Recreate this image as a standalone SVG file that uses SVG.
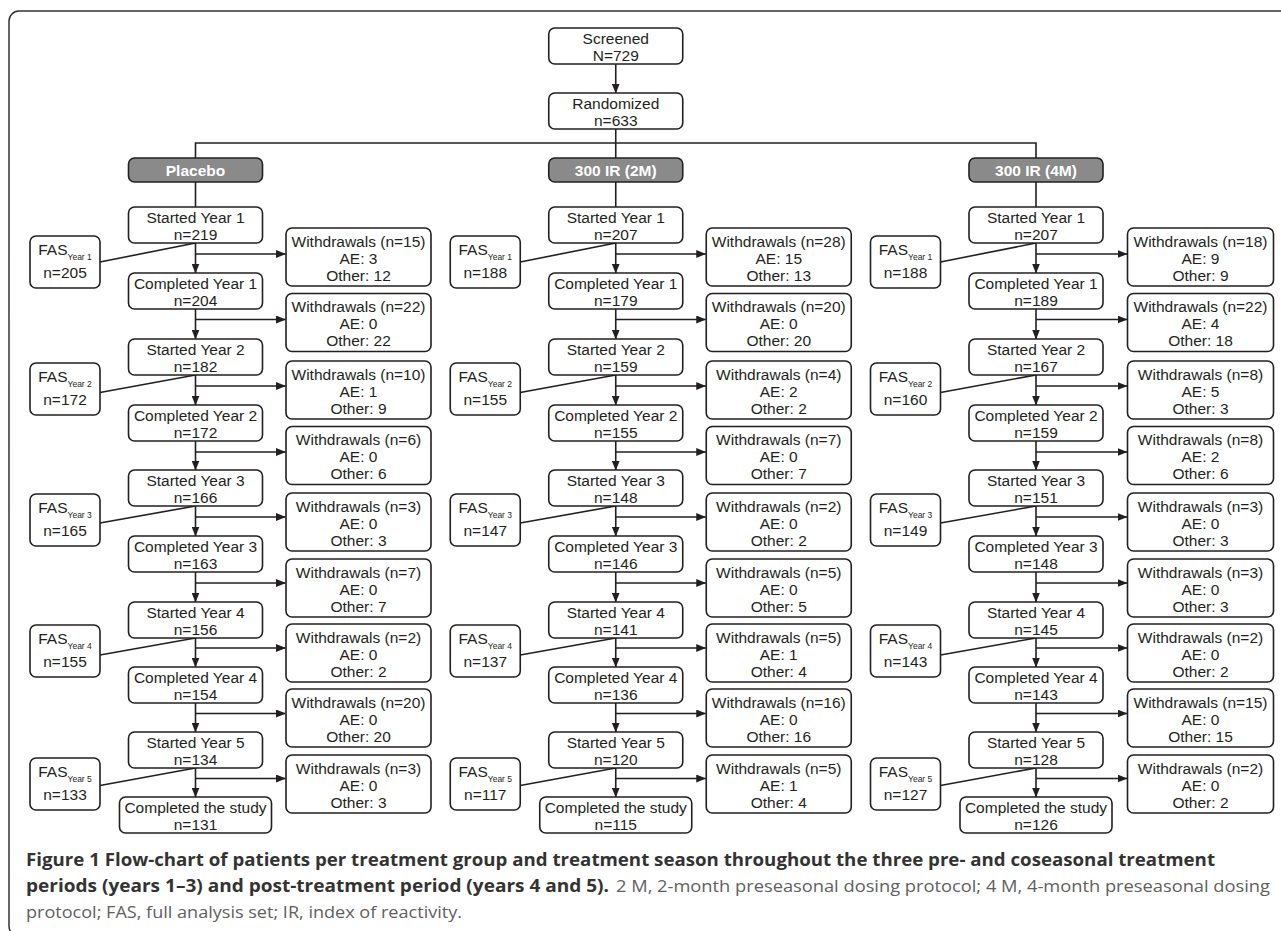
<svg xmlns="http://www.w3.org/2000/svg" width="1281" height="931" viewBox="0 0 1281 931">
<defs>
<style>
.box{fill:#fff;stroke:#231f20;stroke-width:1.6}
.hdr{fill:#8a8a8a;stroke:#231f20;stroke-width:1.6}
.t{font-family:"Liberation Sans",Arial,sans-serif;font-size:15.5px;fill:#231f20;text-anchor:middle}
.ht{font-family:"Liberation Sans",Arial,sans-serif;font-size:15.5px;font-weight:bold;fill:#fff;text-anchor:middle}
.sub{font-size:8.5px}
.ln{stroke:#231f20;stroke-width:1.6;fill:none}
.ar{stroke:#231f20;stroke-width:1.6;fill:none;marker-end:url(#ah)}
.cb{font-family:"Open Sans","Liberation Sans",sans-serif;font-size:17px;font-weight:bold;fill:#333}
.cn{font-family:"Open Sans","Liberation Sans",sans-serif;font-size:17px;fill:#606060}
</style>
<marker id="ah" markerUnits="userSpaceOnUse" markerWidth="10" markerHeight="8" refX="9.5" refY="4" orient="auto"><path d="M0,0 L10,4 L0,8 z" fill="#231f20"/></marker>
</defs>
<rect x="0" y="0" width="1281" height="931" fill="#fff"/>
<rect x="9" y="11" width="1290" height="925" rx="10" fill="none" stroke="#333" stroke-width="1.5"/>

<g id="connectors">
<path class="ar" d="M615.75,64 V93"/>
<path class="ln" d="M615.75,129 V158 M195.5,158 V143 H1036 V158"/>
<g id="conn-placebo">
<path class="ln" d="M195.5,182 V207"/>
<path class="ar" d="M195.5,243 V273"/><path class="ar" d="M195.5,309 V339"/><path class="ar" d="M195.5,375 V405"/><path class="ar" d="M195.5,441 V470"/><path class="ar" d="M195.5,506 V536"/><path class="ar" d="M195.5,572 V602"/><path class="ar" d="M195.5,638 V667"/><path class="ar" d="M195.5,703 V732"/><path class="ar" d="M195.5,768 V797"/>
<path class="ar" d="M195.5,254 H285.5"/><path class="ar" d="M195.5,319.5 H285.5"/><path class="ar" d="M195.5,386 H285.5"/><path class="ar" d="M195.5,452 H285.5"/><path class="ar" d="M195.5,517 H285.5"/><path class="ar" d="M195.5,583 H285.5"/><path class="ar" d="M195.5,648 H285.5"/><path class="ar" d="M195.5,713.5 H285.5"/><path class="ar" d="M195.5,778.5 H285.5"/>
<path class="ln" d="M100,262 L195.5,243 M100,392.5 L195.5,375 M100,523 L195.5,506 M100,655 L195.5,638 M100,785.5 L195.5,768"/>
</g>
<g id="conn-2m" transform="translate(420.25,0)">
<path class="ln" d="M195.5,182 V207"/>
<path class="ar" d="M195.5,243 V273"/><path class="ar" d="M195.5,309 V339"/><path class="ar" d="M195.5,375 V405"/><path class="ar" d="M195.5,441 V470"/><path class="ar" d="M195.5,506 V536"/><path class="ar" d="M195.5,572 V602"/><path class="ar" d="M195.5,638 V667"/><path class="ar" d="M195.5,703 V732"/><path class="ar" d="M195.5,768 V797"/>
<path class="ar" d="M195.5,254 H285.5"/><path class="ar" d="M195.5,319.5 H285.5"/><path class="ar" d="M195.5,386 H285.5"/><path class="ar" d="M195.5,452 H285.5"/><path class="ar" d="M195.5,517 H285.5"/><path class="ar" d="M195.5,583 H285.5"/><path class="ar" d="M195.5,648 H285.5"/><path class="ar" d="M195.5,713.5 H285.5"/><path class="ar" d="M195.5,778.5 H285.5"/>
<path class="ln" d="M100,262 L195.5,243 M100,392.5 L195.5,375 M100,523 L195.5,506 M100,655 L195.5,638 M100,785.5 L195.5,768"/>
</g>
<g id="conn-4m" transform="translate(840.5,0)">
<path class="ln" d="M195.5,182 V207"/>
<path class="ar" d="M195.5,243 V273"/><path class="ar" d="M195.5,309 V339"/><path class="ar" d="M195.5,375 V405"/><path class="ar" d="M195.5,441 V470"/><path class="ar" d="M195.5,506 V536"/><path class="ar" d="M195.5,572 V602"/><path class="ar" d="M195.5,638 V667"/><path class="ar" d="M195.5,703 V732"/><path class="ar" d="M195.5,768 V797"/>
<path class="ar" d="M195.5,254 H286.5"/><path class="ar" d="M195.5,319.5 H286.5"/><path class="ar" d="M195.5,386 H286.5"/><path class="ar" d="M195.5,452 H286.5"/><path class="ar" d="M195.5,517 H286.5"/><path class="ar" d="M195.5,583 H286.5"/><path class="ar" d="M195.5,648 H286.5"/><path class="ar" d="M195.5,713.5 H286.5"/><path class="ar" d="M195.5,778.5 H286.5"/>
<path class="ln" d="M100,262 L195.5,243 M100,392.5 L195.5,375 M100,523 L195.5,506 M100,655 L195.5,638 M100,785.5 L195.5,768"/>
</g>
</g>

<g id="screened"><rect class="box" x="548.75" y="28" width="134" height="36" rx="6"/><text class="t" x="615.75" y="44">Screened</text><text class="t" x="615.75" y="60.5">N=729</text></g>
<g id="randomized"><rect class="box" x="548.75" y="93" width="134" height="36" rx="6"/><text class="t" x="615.75" y="109">Randomized</text><text class="t" x="615.75" y="125.5">n=633</text></g>

<!-- Placebo column -->
<g id="col-placebo">
<g id="p-hdr"><rect class="hdr" x="128.5" y="158" width="134" height="24" rx="6"/><text class="ht" x="195.5" y="175.5">Placebo</text></g>
<g id="p-s1"><rect class="box" x="128.5" y="207" width="134" height="36" rx="6"/><text class="t" x="195.5" y="223">Started Year 1</text><text class="t" x="195.5" y="239.5">n=219</text></g>
<g id="p-c1"><rect class="box" x="128.5" y="273" width="134" height="36" rx="6"/><text class="t" x="195.5" y="289">Completed Year 1</text><text class="t" x="195.5" y="305.5">n=204</text></g>
<g id="p-s2"><rect class="box" x="128.5" y="339" width="134" height="36" rx="6"/><text class="t" x="195.5" y="355">Started Year 2</text><text class="t" x="195.5" y="371.5">n=182</text></g>
<g id="p-c2"><rect class="box" x="128.5" y="405" width="134" height="36" rx="6"/><text class="t" x="195.5" y="421">Completed Year 2</text><text class="t" x="195.5" y="437.5">n=172</text></g>
<g id="p-s3"><rect class="box" x="128.5" y="470" width="134" height="36" rx="6"/><text class="t" x="195.5" y="486">Started Year 3</text><text class="t" x="195.5" y="502.5">n=166</text></g>
<g id="p-c3"><rect class="box" x="128.5" y="536" width="134" height="36" rx="6"/><text class="t" x="195.5" y="552">Completed Year 3</text><text class="t" x="195.5" y="568.5">n=163</text></g>
<g id="p-s4"><rect class="box" x="128.5" y="602" width="134" height="36" rx="6"/><text class="t" x="195.5" y="618">Started Year 4</text><text class="t" x="195.5" y="634.5">n=156</text></g>
<g id="p-c4"><rect class="box" x="128.5" y="667" width="134" height="36" rx="6"/><text class="t" x="195.5" y="683">Completed Year 4</text><text class="t" x="195.5" y="699.5">n=154</text></g>
<g id="p-s5"><rect class="box" x="128.5" y="732" width="134" height="36" rx="6"/><text class="t" x="195.5" y="748">Started Year 5</text><text class="t" x="195.5" y="764.5">n=134</text></g>
<g id="p-cs"><rect class="box" x="119.5" y="797" width="152" height="36" rx="6"/><text class="t" x="195.5" y="813">Completed the study</text><text class="t" x="195.5" y="829.5">n=131</text></g>
<g id="p-f1"><rect class="box" x="30" y="236" width="70" height="52" rx="6"/><text class="t" x="65" y="255">FAS<tspan class="sub" dy="4.5">Year 1</tspan></text><text class="t" x="65" y="278">n=205</text></g>
<g id="p-f2"><rect class="box" x="30" y="363" width="70" height="52" rx="6"/><text class="t" x="65" y="382">FAS<tspan class="sub" dy="4.5">Year 2</tspan></text><text class="t" x="65" y="405">n=172</text></g>
<g id="p-f3"><rect class="box" x="30" y="494" width="70" height="52" rx="6"/><text class="t" x="65" y="513">FAS<tspan class="sub" dy="4.5">Year 3</tspan></text><text class="t" x="65" y="536">n=165</text></g>
<g id="p-f4"><rect class="box" x="30" y="625" width="70" height="52" rx="6"/><text class="t" x="65" y="644">FAS<tspan class="sub" dy="4.5">Year 4</tspan></text><text class="t" x="65" y="667">n=155</text></g>
<g id="p-f5"><rect class="box" x="30" y="758" width="70" height="52" rx="6"/><text class="t" x="65" y="777">FAS<tspan class="sub" dy="4.5">Year 5</tspan></text><text class="t" x="65" y="800">n=133</text></g>
<g id="p-w1"><rect class="box" x="286" y="228" width="145" height="58" rx="6"/><text class="t" x="358.5" y="246.5">Withdrawals (n=15)</text><text class="t" x="358.5" y="263.5">AE: 3</text><text class="t" x="358.5" y="280.5">Other: 12</text></g>
<g id="p-w2"><rect class="box" x="286" y="293.5" width="145" height="58" rx="6"/><text class="t" x="358.5" y="312">Withdrawals (n=22)</text><text class="t" x="358.5" y="329">AE: 0</text><text class="t" x="358.5" y="346">Other: 22</text></g>
<g id="p-w3"><rect class="box" x="286" y="361" width="145" height="58" rx="6"/><text class="t" x="358.5" y="379.5">Withdrawals (n=10)</text><text class="t" x="358.5" y="396.5">AE: 1</text><text class="t" x="358.5" y="413.5">Other: 9</text></g>
<g id="p-w4"><rect class="box" x="286" y="426.5" width="145" height="58" rx="6"/><text class="t" x="358.5" y="445">Withdrawals (n=6)</text><text class="t" x="358.5" y="462">AE: 0</text><text class="t" x="358.5" y="479">Other: 6</text></g>
<g id="p-w5"><rect class="box" x="286" y="493" width="145" height="58" rx="6"/><text class="t" x="358.5" y="511.5">Withdrawals (n=3)</text><text class="t" x="358.5" y="528.5">AE: 0</text><text class="t" x="358.5" y="545.5">Other: 3</text></g>
<g id="p-w6"><rect class="box" x="286" y="559" width="145" height="58" rx="6"/><text class="t" x="358.5" y="577.5">Withdrawals (n=7)</text><text class="t" x="358.5" y="594.5">AE: 0</text><text class="t" x="358.5" y="611.5">Other: 7</text></g>
<g id="p-w7"><rect class="box" x="286" y="624" width="145" height="58" rx="6"/><text class="t" x="358.5" y="642.5">Withdrawals (n=2)</text><text class="t" x="358.5" y="659.5">AE: 0</text><text class="t" x="358.5" y="676.5">Other: 2</text></g>
<g id="p-w8"><rect class="box" x="286" y="689" width="145" height="58" rx="6"/><text class="t" x="358.5" y="707.5">Withdrawals (n=20)</text><text class="t" x="358.5" y="724.5">AE: 0</text><text class="t" x="358.5" y="741.5">Other: 20</text></g>
<g id="p-w9"><rect class="box" x="286" y="755" width="145" height="58" rx="6"/><text class="t" x="358.5" y="773.5">Withdrawals (n=3)</text><text class="t" x="358.5" y="790.5">AE: 0</text><text class="t" x="358.5" y="807.5">Other: 3</text></g>
</g>

<!-- 300 IR (2M) column -->
<g id="col-2m" transform="translate(420.25,0)">
<g id="a-hdr"><rect class="hdr" x="128.5" y="158" width="134" height="24" rx="6"/><text class="ht" x="195.5" y="175.5">300 IR (2M)</text></g>
<g id="a-s1"><rect class="box" x="128.5" y="207" width="134" height="36" rx="6"/><text class="t" x="195.5" y="223">Started Year 1</text><text class="t" x="195.5" y="239.5">n=207</text></g>
<g id="a-c1"><rect class="box" x="128.5" y="273" width="134" height="36" rx="6"/><text class="t" x="195.5" y="289">Completed Year 1</text><text class="t" x="195.5" y="305.5">n=179</text></g>
<g id="a-s2"><rect class="box" x="128.5" y="339" width="134" height="36" rx="6"/><text class="t" x="195.5" y="355">Started Year 2</text><text class="t" x="195.5" y="371.5">n=159</text></g>
<g id="a-c2"><rect class="box" x="128.5" y="405" width="134" height="36" rx="6"/><text class="t" x="195.5" y="421">Completed Year 2</text><text class="t" x="195.5" y="437.5">n=155</text></g>
<g id="a-s3"><rect class="box" x="128.5" y="470" width="134" height="36" rx="6"/><text class="t" x="195.5" y="486">Started Year 3</text><text class="t" x="195.5" y="502.5">n=148</text></g>
<g id="a-c3"><rect class="box" x="128.5" y="536" width="134" height="36" rx="6"/><text class="t" x="195.5" y="552">Completed Year 3</text><text class="t" x="195.5" y="568.5">n=146</text></g>
<g id="a-s4"><rect class="box" x="128.5" y="602" width="134" height="36" rx="6"/><text class="t" x="195.5" y="618">Started Year 4</text><text class="t" x="195.5" y="634.5">n=141</text></g>
<g id="a-c4"><rect class="box" x="128.5" y="667" width="134" height="36" rx="6"/><text class="t" x="195.5" y="683">Completed Year 4</text><text class="t" x="195.5" y="699.5">n=136</text></g>
<g id="a-s5"><rect class="box" x="128.5" y="732" width="134" height="36" rx="6"/><text class="t" x="195.5" y="748">Started Year 5</text><text class="t" x="195.5" y="764.5">n=120</text></g>
<g id="a-cs"><rect class="box" x="119.5" y="797" width="152" height="36" rx="6"/><text class="t" x="195.5" y="813">Completed the study</text><text class="t" x="195.5" y="829.5">n=115</text></g>
<g id="a-f1"><rect class="box" x="30" y="236" width="70" height="52" rx="6"/><text class="t" x="65" y="255">FAS<tspan class="sub" dy="4.5">Year 1</tspan></text><text class="t" x="65" y="278">n=188</text></g>
<g id="a-f2"><rect class="box" x="30" y="363" width="70" height="52" rx="6"/><text class="t" x="65" y="382">FAS<tspan class="sub" dy="4.5">Year 2</tspan></text><text class="t" x="65" y="405">n=155</text></g>
<g id="a-f3"><rect class="box" x="30" y="494" width="70" height="52" rx="6"/><text class="t" x="65" y="513">FAS<tspan class="sub" dy="4.5">Year 3</tspan></text><text class="t" x="65" y="536">n=147</text></g>
<g id="a-f4"><rect class="box" x="30" y="625" width="70" height="52" rx="6"/><text class="t" x="65" y="644">FAS<tspan class="sub" dy="4.5">Year 4</tspan></text><text class="t" x="65" y="667">n=137</text></g>
<g id="a-f5"><rect class="box" x="30" y="758" width="70" height="52" rx="6"/><text class="t" x="65" y="777">FAS<tspan class="sub" dy="4.5">Year 5</tspan></text><text class="t" x="65" y="800">n=117</text></g>
<g id="a-w1"><rect class="box" x="286" y="228" width="145" height="58" rx="6"/><text class="t" x="358.5" y="246.5">Withdrawals (n=28)</text><text class="t" x="358.5" y="263.5">AE: 15</text><text class="t" x="358.5" y="280.5">Other: 13</text></g>
<g id="a-w2"><rect class="box" x="286" y="293.5" width="145" height="58" rx="6"/><text class="t" x="358.5" y="312">Withdrawals (n=20)</text><text class="t" x="358.5" y="329">AE: 0</text><text class="t" x="358.5" y="346">Other: 20</text></g>
<g id="a-w3"><rect class="box" x="286" y="361" width="145" height="58" rx="6"/><text class="t" x="358.5" y="379.5">Withdrawals (n=4)</text><text class="t" x="358.5" y="396.5">AE: 2</text><text class="t" x="358.5" y="413.5">Other: 2</text></g>
<g id="a-w4"><rect class="box" x="286" y="426.5" width="145" height="58" rx="6"/><text class="t" x="358.5" y="445">Withdrawals (n=7)</text><text class="t" x="358.5" y="462">AE: 0</text><text class="t" x="358.5" y="479">Other: 7</text></g>
<g id="a-w5"><rect class="box" x="286" y="493" width="145" height="58" rx="6"/><text class="t" x="358.5" y="511.5">Withdrawals (n=2)</text><text class="t" x="358.5" y="528.5">AE: 0</text><text class="t" x="358.5" y="545.5">Other: 2</text></g>
<g id="a-w6"><rect class="box" x="286" y="559" width="145" height="58" rx="6"/><text class="t" x="358.5" y="577.5">Withdrawals (n=5)</text><text class="t" x="358.5" y="594.5">AE: 0</text><text class="t" x="358.5" y="611.5">Other: 5</text></g>
<g id="a-w7"><rect class="box" x="286" y="624" width="145" height="58" rx="6"/><text class="t" x="358.5" y="642.5">Withdrawals (n=5)</text><text class="t" x="358.5" y="659.5">AE: 1</text><text class="t" x="358.5" y="676.5">Other: 4</text></g>
<g id="a-w8"><rect class="box" x="286" y="689" width="145" height="58" rx="6"/><text class="t" x="358.5" y="707.5">Withdrawals (n=16)</text><text class="t" x="358.5" y="724.5">AE: 0</text><text class="t" x="358.5" y="741.5">Other: 16</text></g>
<g id="a-w9"><rect class="box" x="286" y="755" width="145" height="58" rx="6"/><text class="t" x="358.5" y="773.5">Withdrawals (n=5)</text><text class="t" x="358.5" y="790.5">AE: 1</text><text class="t" x="358.5" y="807.5">Other: 4</text></g>
</g>

<!-- 300 IR (4M) column -->
<g id="col-4m" transform="translate(840.5,0)">
<g id="b-hdr"><rect class="hdr" x="128.5" y="158" width="134" height="24" rx="6"/><text class="ht" x="195.5" y="175.5">300 IR (4M)</text></g>
<g id="b-s1"><rect class="box" x="128.5" y="207" width="134" height="36" rx="6"/><text class="t" x="195.5" y="223">Started Year 1</text><text class="t" x="195.5" y="239.5">n=207</text></g>
<g id="b-c1"><rect class="box" x="128.5" y="273" width="134" height="36" rx="6"/><text class="t" x="195.5" y="289">Completed Year 1</text><text class="t" x="195.5" y="305.5">n=189</text></g>
<g id="b-s2"><rect class="box" x="128.5" y="339" width="134" height="36" rx="6"/><text class="t" x="195.5" y="355">Started Year 2</text><text class="t" x="195.5" y="371.5">n=167</text></g>
<g id="b-c2"><rect class="box" x="128.5" y="405" width="134" height="36" rx="6"/><text class="t" x="195.5" y="421">Completed Year 2</text><text class="t" x="195.5" y="437.5">n=159</text></g>
<g id="b-s3"><rect class="box" x="128.5" y="470" width="134" height="36" rx="6"/><text class="t" x="195.5" y="486">Started Year 3</text><text class="t" x="195.5" y="502.5">n=151</text></g>
<g id="b-c3"><rect class="box" x="128.5" y="536" width="134" height="36" rx="6"/><text class="t" x="195.5" y="552">Completed Year 3</text><text class="t" x="195.5" y="568.5">n=148</text></g>
<g id="b-s4"><rect class="box" x="128.5" y="602" width="134" height="36" rx="6"/><text class="t" x="195.5" y="618">Started Year 4</text><text class="t" x="195.5" y="634.5">n=145</text></g>
<g id="b-c4"><rect class="box" x="128.5" y="667" width="134" height="36" rx="6"/><text class="t" x="195.5" y="683">Completed Year 4</text><text class="t" x="195.5" y="699.5">n=143</text></g>
<g id="b-s5"><rect class="box" x="128.5" y="732" width="134" height="36" rx="6"/><text class="t" x="195.5" y="748">Started Year 5</text><text class="t" x="195.5" y="764.5">n=128</text></g>
<g id="b-cs"><rect class="box" x="119.5" y="797" width="152" height="36" rx="6"/><text class="t" x="195.5" y="813">Completed the study</text><text class="t" x="195.5" y="829.5">n=126</text></g>
<g id="b-f1"><rect class="box" x="30" y="236" width="70" height="52" rx="6"/><text class="t" x="65" y="255">FAS<tspan class="sub" dy="4.5">Year 1</tspan></text><text class="t" x="65" y="278">n=188</text></g>
<g id="b-f2"><rect class="box" x="30" y="363" width="70" height="52" rx="6"/><text class="t" x="65" y="382">FAS<tspan class="sub" dy="4.5">Year 2</tspan></text><text class="t" x="65" y="405">n=160</text></g>
<g id="b-f3"><rect class="box" x="30" y="494" width="70" height="52" rx="6"/><text class="t" x="65" y="513">FAS<tspan class="sub" dy="4.5">Year 3</tspan></text><text class="t" x="65" y="536">n=149</text></g>
<g id="b-f4"><rect class="box" x="30" y="625" width="70" height="52" rx="6"/><text class="t" x="65" y="644">FAS<tspan class="sub" dy="4.5">Year 4</tspan></text><text class="t" x="65" y="667">n=143</text></g>
<g id="b-f5"><rect class="box" x="30" y="758" width="70" height="52" rx="6"/><text class="t" x="65" y="777">FAS<tspan class="sub" dy="4.5">Year 5</tspan></text><text class="t" x="65" y="800">n=127</text></g>
<g id="b-w1"><rect class="box" x="287" y="228" width="146" height="58" rx="6"/><text class="t" x="360" y="246.5">Withdrawals (n=18)</text><text class="t" x="360" y="263.5">AE: 9</text><text class="t" x="360" y="280.5">Other: 9</text></g>
<g id="b-w2"><rect class="box" x="287" y="293.5" width="146" height="58" rx="6"/><text class="t" x="360" y="312">Withdrawals (n=22)</text><text class="t" x="360" y="329">AE: 4</text><text class="t" x="360" y="346">Other: 18</text></g>
<g id="b-w3"><rect class="box" x="287" y="361" width="146" height="58" rx="6"/><text class="t" x="360" y="379.5">Withdrawals (n=8)</text><text class="t" x="360" y="396.5">AE: 5</text><text class="t" x="360" y="413.5">Other: 3</text></g>
<g id="b-w4"><rect class="box" x="287" y="426.5" width="146" height="58" rx="6"/><text class="t" x="360" y="445">Withdrawals (n=8)</text><text class="t" x="360" y="462">AE: 2</text><text class="t" x="360" y="479">Other: 6</text></g>
<g id="b-w5"><rect class="box" x="287" y="493" width="146" height="58" rx="6"/><text class="t" x="360" y="511.5">Withdrawals (n=3)</text><text class="t" x="360" y="528.5">AE: 0</text><text class="t" x="360" y="545.5">Other: 3</text></g>
<g id="b-w6"><rect class="box" x="287" y="559" width="146" height="58" rx="6"/><text class="t" x="360" y="577.5">Withdrawals (n=3)</text><text class="t" x="360" y="594.5">AE: 0</text><text class="t" x="360" y="611.5">Other: 3</text></g>
<g id="b-w7"><rect class="box" x="287" y="624" width="146" height="58" rx="6"/><text class="t" x="360" y="642.5">Withdrawals (n=2)</text><text class="t" x="360" y="659.5">AE: 0</text><text class="t" x="360" y="676.5">Other: 2</text></g>
<g id="b-w8"><rect class="box" x="287" y="689" width="146" height="58" rx="6"/><text class="t" x="360" y="707.5">Withdrawals (n=15)</text><text class="t" x="360" y="724.5">AE: 0</text><text class="t" x="360" y="741.5">Other: 15</text></g>
<g id="b-w9"><rect class="box" x="287" y="755" width="146" height="58" rx="6"/><text class="t" x="360" y="773.5">Withdrawals (n=2)</text><text class="t" x="360" y="790.5">AE: 0</text><text class="t" x="360" y="807.5">Other: 2</text></g>
</g>

<g id="caption">
<text class="cb" x="26" y="866" textLength="1189" lengthAdjust="spacingAndGlyphs">Figure 1 Flow-chart of patients per treatment group and treatment season throughout the three pre- and coseasonal treatment</text>
<text class="cb" x="26" y="892" textLength="583" lengthAdjust="spacingAndGlyphs">periods (years 1–3) and post-treatment period (years 4 and 5).</text>
<text class="cn" x="616" y="892" textLength="654" lengthAdjust="spacingAndGlyphs">2 M, 2-month preseasonal dosing protocol; 4 M, 4-month preseasonal dosing</text>
<text class="cn" x="26" y="918" textLength="436" lengthAdjust="spacingAndGlyphs">protocol; FAS, full analysis set; IR, index of reactivity.</text>
</g>
</svg>
